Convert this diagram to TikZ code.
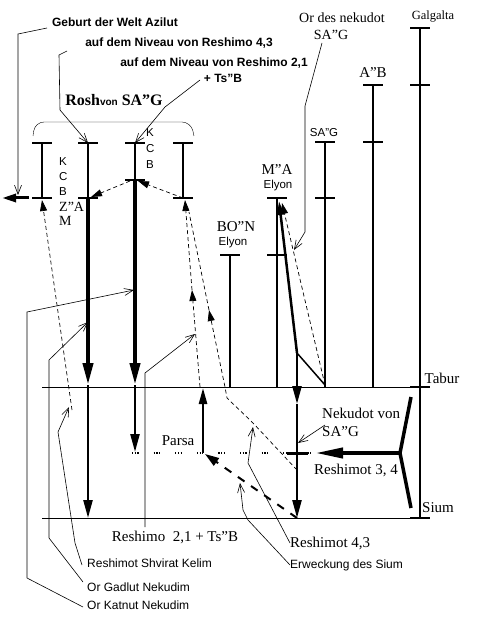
\documentclass[tikz,border=0pt]{standalone}
\usepackage{fontspec}
\setmainfont{Liberation Serif}
\setsansfont{Liberation Sans}
\usetikzlibrary{positioning, arrows.meta}

\begin{document}
\begin{tikzpicture}[
    x=1pt, y=-1pt,
    stem/.style={line width=2pt},
    heavy/.style={line width=4pt, -{Triangle[length=22pt,width=10pt]}},
    medium/.style={line width=2.4pt, -{Triangle[length=18pt,width=9pt]}},
    flow/.style={dash pattern=on 4pt off 3pt, line width=0.7pt, -{Triangle[length=11pt,width=7pt]}},
    flowline/.style={dash pattern=on 4pt off 3pt, line width=0.7pt},
    backflow/.style={dash pattern=on 8pt off 8pt, line width=2pt, -{Triangle[length=14pt,width=9pt]}},
    pointer/.style={line width=0.6pt, -{Straight Barb[length=9pt,width=7pt]}},
    note/.style={font=\sffamily\fontsize{12}{14}\selectfont, inner sep=1pt},
    headline/.style={font=\sffamily\bfseries\fontsize{12}{14}\selectfont, inner sep=1pt},
    level/.style={font=\fontsize{15}{17}\selectfont, inner sep=0pt},
    letter/.style={font=\sffamily\fontsize{11.5}{13}\selectfont, inner sep=0pt, anchor=west}
]
\useasboundingbox (0,0) rectangle (481,620);

% Tabur and Sium
\coordinate (tabL) at (42,387);  \coordinate (tabR) at (430,387);
\coordinate (siumL) at (42,518); \coordinate (siumR) at (430,518);
\draw[thin] (tabL) -- (tabR);
\draw[thin] (siumL) -- (siumR);
\node[level] (tabur) at (442,378) {Tabur};
\node[level] (sium) at (438,508) {Sium};

% Rosh columns
\coordinate (aTop) at (42,143);  \coordinate (aBot) at (42,198);
\coordinate (bTop) at (88,143);  \coordinate (bBot) at (88,198);
\coordinate (bTab) at (88,385);  \coordinate (bSium) at (88,518);
\coordinate (cTop) at (135,143); \coordinate (cMid) at (135,180);
\coordinate (cTab) at (135,385); \coordinate (cEnd) at (135,452);
\coordinate (dTop) at (183,143); \coordinate (dBot) at (183,198);
\foreach \c in {aTop,aBot,bTop,bBot,cTop,cMid,dTop,dBot}
    \draw[stem] (\c) ++(-10,0) -- ++(20,0);
\draw[stem] (aTop) -- (aBot);
\draw[stem] (bTop) -- (bBot);
\draw[stem] (cTop) -- (cMid);
\draw[stem] (dTop) -- (dBot);
\draw[heavy] (bBot) -- (bTab);
\draw[medium] (bTab) -- (bSium);
\draw[heavy] (cMid) -- (cTab);
\draw[medium] (cTab) -- (cEnd);

\coordinate (outR) at (29,198); \coordinate (outL) at (2,198);
\draw[line width=3pt, -{Triangle[length=14pt,width=8pt]}] (outR) -- (outL);

% letters
\node[letter] (k1) at (59,162) {K};
\node[letter] (c1) at (59,177) {C};
\node[letter] (b1) at (59,192) {B};
\node[letter, font=\fontsize{14}{16}\selectfont] (z1) at (59,207) {Z''A};
\node[letter, font=\fontsize{14}{16}\selectfont] (m1) at (59,221) {M};
\node[letter] (k2) at (146,133) {K};
\node[letter] (c2) at (146,149) {C};
\node[letter] (b2) at (146,165) {B};

% brace of the Rosh
\draw[thin, rounded corners=9pt] (33,136) -- (35,122) -- (191,122) -- (194,136);
\node[font=\bfseries\fontsize{16}{18}\selectfont, inner sep=0pt] (rosh) at (114,100)
    {Rosh{\sffamily\fontsize{10}{12}\selectfont von} SA''G};

% right columns
\coordinate (bonTop) at (230,255); \coordinate (bonBot) at (230,387);
\coordinate (maTop) at (277,198);  \coordinate (maMid) at (277,255); \coordinate (maBot) at (277,387);
\coordinate (sagTop) at (325,142); \coordinate (sagMid) at (325,198); \coordinate (sagBot) at (325,387);
\coordinate (abTop) at (373,85);   \coordinate (abMid) at (373,142); \coordinate (abBot) at (373,387);
\coordinate (galTop) at (420,28);  \coordinate (galMid) at (420,85);
\coordinate (galTab) at (420,387); \coordinate (galBot) at (420,518);
\foreach \c in {bonTop,maTop,maMid,sagTop,sagMid,abTop,abMid,galTop,galMid,galTab,galBot}
    \draw[stem] (\c) ++(-10,0) -- ++(20,0);
\draw[stem] (bonTop) -- (bonBot);
\draw[stem] (maTop) -- (maBot);
\draw[stem] (sagTop) -- (sagBot);
\draw[stem] (abTop) -- (abBot);
\draw[stem] (galTop) -- (galBot);

\node[level] (bon) at (236,227) {BO''N};
\node[letter, anchor=center] (bonE) at (233,243) {Elyon};
\node[level] (ma) at (277,170) {M''A};
\node[letter, anchor=center] (maE) at (278,186) {Elyon};
\node[letter, anchor=center] (sag) at (324,133) {SA''G};
\node[level] (ab) at (373,73) {A''B};
\node[level, font=\fontsize{12.5}{14}\selectfont] (gal) at (433,17) {Galgalta};

% Nekudot
\coordinate (nKnee) at (297,353); \coordinate (nTab) at (297,386);
\coordinate (nHead) at (297,404); \coordinate (nSium) at (297,518);
\coordinate (nParsa) at (297,453);
\coordinate (maHit) at (279,201); \coordinate (maHit2) at (282,203);
\coordinate (sagFoot) at (325,385);
\draw[line width=2.5pt, -{Triangle[length=14pt,width=7pt]}] (nKnee) -- (maHit);
\draw[line width=1.5pt] (nKnee) -- (sagFoot);
\draw[line width=1.5pt] (nKnee) -- (nTab);
\draw[flow] (sagFoot) -- (maHit2);
\draw[medium] (nTab) -- (nHead);
\draw[medium] (nHead) -- (nSium);
\draw[line width=3pt] (nParsa) ++(-10,0) -- ++(21,0);

% Parsa
\coordinate (parsaL) at (132,453); \coordinate (parsaR) at (315,453);
\coordinate (pPt) at (203,453); \coordinate (pTab) at (203,388); \coordinate (pHit) at (205,454);
\draw[line width=1.2pt, dash pattern=on 1.2pt off 1.5pt on 1.2pt off 1.5pt on 1.2pt off 15pt] (parsaL) -- (parsaR);
\draw[line width=2.5pt, -{Triangle[length=16pt,width=8pt]}] (pPt) -- (pTab);
\draw[backflow] (nSium) -- (pHit);
\node[level] (parsa) at (178,441) {Parsa};

% Reshimot 3,4
\coordinate (yFork) at (400,453); \coordinate (yUp) at (411,397); \coordinate (yDown) at (411,508);
\coordinate (nTip) at (315,453);
\draw[line width=3.5pt] (yUp) -- (yFork) -- (yDown);
\draw[line width=4pt, -{Triangle[length=28pt,width=10pt]}] (yFork) -- (nTip);
\node[level] (r34) at (356,470) {Reshimot 3, 4};
\node[level, anchor=west] (nekA) at (322,413) {Nekudot von};
\node[level, anchor=west] (nekB) at (322,432) {SA''G};
\coordinate (nekHit) at (298,443);
\draw[pointer] (325,425) -- (nekHit);

% dashed ways in the Rosh
\coordinate (cHit) at (138,181); \coordinate (bHit) at (91,197);
\draw[flow] (cMid) ++(-5,1) -- (bHit);
\draw[flow] (dBot) -- (cHit);
\coordinate (aFoot) at (72,410); \coordinate (aHit) at (42,200);
\draw[flow] (aFoot) -- (aHit);

% dashed ways up to the fourth column
\coordinate (dHit) at (185,200);
\coordinate (l1Foot) at (200,387); \coordinate (l1Mid) at (192,290);
\coordinate (l2Mid) at (209,310);  \coordinate (l2Top) at (189,212);
\draw[flow] (l1Foot) -- (l1Mid);
\draw[flow] (l1Mid) -- (dHit);
\draw[flow] (nParsa) ++(0,17) -- (253,423) -- (227,398) -- (225,387) -- (l2Mid);
\draw[flowline] (l2Mid) -- (l2Top);

% top labels
\node[headline] (geburt) at (115,22) {Geburt der Welt Azilut};
\node[headline] (niv43) at (179,43) {auf dem Niveau von Reshimo 4,3};
\node[headline] (niv21) at (214,63) {auf dem Niveau von Reshimo 2,1};
\node[headline] (tsb) at (223,78) {+ Ts"B};
\node[level, font=\fontsize{14}{16}\selectfont] (orA) at (342,18) {Or des nekudot};
\node[level, font=\fontsize{14}{16}\selectfont] (orB) at (331,35) {SA"G};

\draw[pointer] (47,28) -- (18,34) -- (18,195);
\draw[pointer] (67,51) -- (59,55) -- (60,110) -- (bTop);
\draw[pointer] (200,80) -- (165,107) -- (cTop);
\draw[pointer] (322,43) -- (305,106) -- (305,232) -- (294,250);

% bottom labels
\node[level] (r21) at (175,537) {Reshimo\ \ 2,1 + Ts''B};
\node[level, anchor=west] (r43) at (290,543) {Reshimot 4,3};
\node[note, anchor=west] (erw) at (289,565) {Erweckung des Sium};
\node[note, anchor=west] (shv) at (86,563) {Reshimot Shvirat Kelim};
\node[note, anchor=west] (gad) at (86,587) {Or Gadlut Nekudim};
\node[note, anchor=west] (kat) at (86,605) {Or Katnut Nekudim};

\draw[pointer] (145,527) -- (145,373) -- (195,334);
\draw[pointer] (290,543) -- (248,463) -- (253,427);
\draw[pointer] (290,565) -- (248,520) -- (243,510) -- (240,483);
\draw[pointer] (83,607) -- (27,578) -- (27,312) -- (134,290);
\draw[pointer] (83,582) -- (49,538) -- (49,360) -- (88,322);
\draw[pointer] (82,565) -- (75,543) -- (58,432) -- (69,407);

\end{tikzpicture}
\end{document}
